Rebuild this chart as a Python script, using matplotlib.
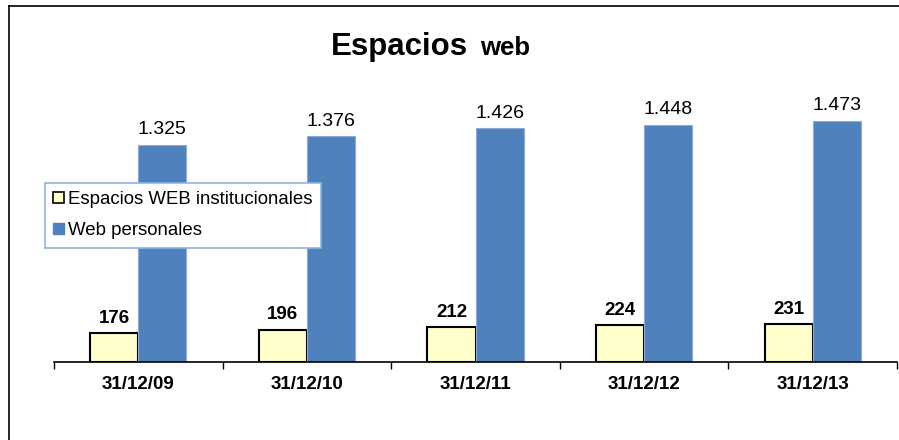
import matplotlib.pyplot as plt
import numpy as np
from matplotlib.lines import Line2D
from matplotlib.patches import Patch

plt.rcParams["font.family"] = ["Liberation Sans", "DejaVu Sans"]

# data
fechas = ["31/12/09", "31/12/10", "31/12/11", "31/12/12", "31/12/13"]
institucionales = [176, 196, 212, 224, 231]
personales = [1325, 1376, 1426, 1448, 1473]
etiquetas_personales = ["1.325", "1.376", "1.426", "1.448", "1.473"]

amarillo = "#FFFFCC"
azul = "#4F81BD"

fig = plt.figure(figsize=(8.99, 4.4), dpi=100)
ax = fig.add_axes([54 / 899, 78 / 440, 843 / 899, 295 / 440])

x = np.arange(len(fechas))
w = 0.285

ax.bar(x - w / 2, institucionales, w, color=amarillo, edgecolor="black",
       linewidth=1.5, label="Espacios WEB institucionales")
ax.bar(x + w / 2, personales, w, color=azul, edgecolor="#8EAADB",
       linewidth=0.8, label="Web personales")

for i in range(len(fechas)):
    ax.text(x[i] - w / 2, institucionales[i] + 40, str(institucionales[i]),
            ha="center", va="bottom", fontsize=13.5, fontweight="bold")
    ax.text(x[i] + w / 2, personales[i] + 40, etiquetas_personales[i],
            ha="center", va="bottom", fontsize=14)

ax.set_xlim(-0.5, len(fechas) - 0.5)
ax.set_ylim(0, 1800)
ax.set_yticks([])
ax.set_xticks(x)
ax.set_xticklabels(fechas, fontsize=13.5, fontweight="bold")
ax.set_xticks(np.arange(-0.5, len(fechas)), minor=True)
ax.tick_params(axis="x", which="major", length=0, pad=10)
ax.tick_params(axis="x", which="minor", length=5, width=1, direction="out")
for s in ["top", "right", "left"]:
    ax.spines[s].set_visible(False)
ax.spines["bottom"].set_linewidth(1.2)

handles = [Patch(facecolor=amarillo, edgecolor="black", linewidth=1.2),
           Patch(facecolor=azul, edgecolor=azul)]
leg = fig.legend(handles, ["Espacios WEB institucionales", "Web personales"],
                 loc="upper left", bbox_to_anchor=(45 / 899, 1 - 183 / 440),
                 fontsize=13.4, frameon=True, fancybox=False, framealpha=1,
                 handlelength=0.55, handleheight=0.55, handletextpad=0.25,
                 labelspacing=0.75, borderpad=0.45, borderaxespad=0)
leg.get_frame().set_edgecolor("#8DB3E2")
leg.get_frame().set_linewidth(1.2)
leg.set_zorder(5)

fig.text(468 / 899, 1 - 55 / 440, "Espacios", ha="right", va="baseline",
         fontsize=22.5, fontweight="bold")
fig.text(480 / 899, 1 - 55 / 440, "web", ha="left", va="baseline",
         fontsize=18.5, fontweight="bold")

# outer frame (left and top only visible)
fig.add_artist(Line2D([9 / 899, 9 / 899], [0, 1 - 6 / 440], color="black",
                      linewidth=1.2, transform=fig.transFigure))
fig.add_artist(Line2D([9 / 899, 1], [1 - 6 / 440, 1 - 6 / 440], color="black",
                      linewidth=1.2, transform=fig.transFigure))

fig.savefig("out.png", dpi=100)
